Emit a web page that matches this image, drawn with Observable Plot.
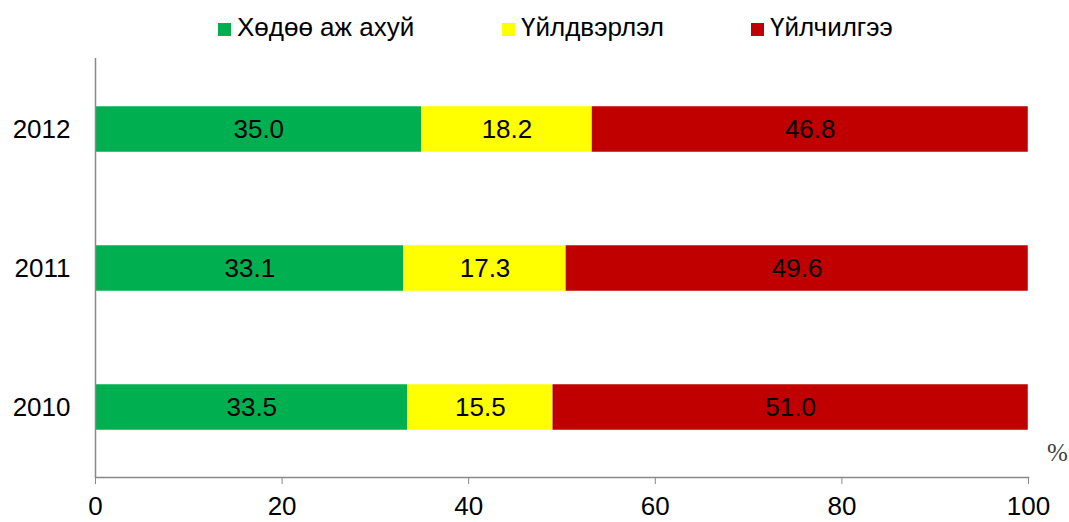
<!DOCTYPE html>
<html><head><meta charset="utf-8">
<script src="https://cdn.jsdelivr.net/npm/d3@7"></script>
<script src="https://cdn.jsdelivr.net/npm/@observablehq/plot@0.6"></script>
<style>
body{margin:0;background:#fff;font-family:"Liberation Sans",Arial,sans-serif;}
#legend{height:48px;position:relative;}
.li{position:absolute;top:12px;font-size:26px;line-height:30px;color:#000;white-space:nowrap;}
.sw{display:inline-block;width:13px;height:13px;margin-right:6px;vertical-align:0px;}
</style></head>
<body>
<div id="legend"></div>
<div id="chart"></div>
<script>
const years = ["2012", "2011", "2010"];
const sectors = ["Хөдөө аж ахуй", "Үйлдвэрлэл", "Үйлчилгээ"];
const colors = ["#00B050", "#FFFF00", "#C00000"];
const agri = [35.0, 33.1, 33.5];
const industry = [18.2, 17.3, 15.5];
const services = [46.8, 49.6, 51.0];
const xTicks = [0, 20, 40, 60, 80, 100];

const series = [agri, industry, services];
const data = [];
years.forEach((y, i) => sectors.forEach((s, j) => data.push({year: y, sector: s, value: series[j][i]})));

const legendPos = [218, 502, 751];
const leg = document.getElementById("legend");
sectors.forEach((s, j) => {
  const d = document.createElement("div");
  d.className = "li";
  d.style.left = legendPos[j] + "px";
  d.innerHTML = `<span class="sw" style="background:${colors[j]}"></span>${s}`;
  leg.appendChild(d);
});

const chart = Plot.plot({
  width: 1069,
  height: 474,
  marginLeft: 95,
  marginRight: 41,
  marginTop: 10,
  marginBottom: 45,
  style: {fontFamily: "Liberation Sans, Arial, sans-serif", fontSize: "26px", color: "#000", background: "#fff"},
  x: {domain: [0, 100], ticks: xTicks, label: null},
  y: {domain: years, paddingInner: 0.67, paddingOuter: 0.335, label: null},
  color: {domain: sectors, range: colors},
  marks: [
    Plot.barX(data, Plot.stackX({x: "value", y: "year", z: "sector", fill: "sector", order: null, stroke: "#fff", strokeWidth: 0.5})),
    Plot.text(data, Plot.stackX({x: "value", y: "year", z: "sector", order: null, text: d => d.value.toFixed(1), fill: "#000", fontSize: 26})),
    Plot.axisX({ticks: xTicks, tickSize: 7, tickPadding: 12, stroke: "#898989", color: "#000", fontSize: 26, label: null}),
    Plot.axisY({tickSize: 0, tickPadding: 25, fontSize: 26, label: null}),
    Plot.ruleX([0], {stroke: "#898989", strokeWidth: 1.5}),
    Plot.frame({anchor: "bottom", stroke: "#898989", strokeWidth: 1.5}),
    Plot.text(["%"], {frameAnchor: "bottom-right", dx: 29, dy: -17, fontFamily: "Liberation Serif, Times New Roman, serif", fontSize: 25, fill: "#404040", textAnchor: "middle"})
  ]
});
document.getElementById("chart").appendChild(chart);
</script>
</body></html>
